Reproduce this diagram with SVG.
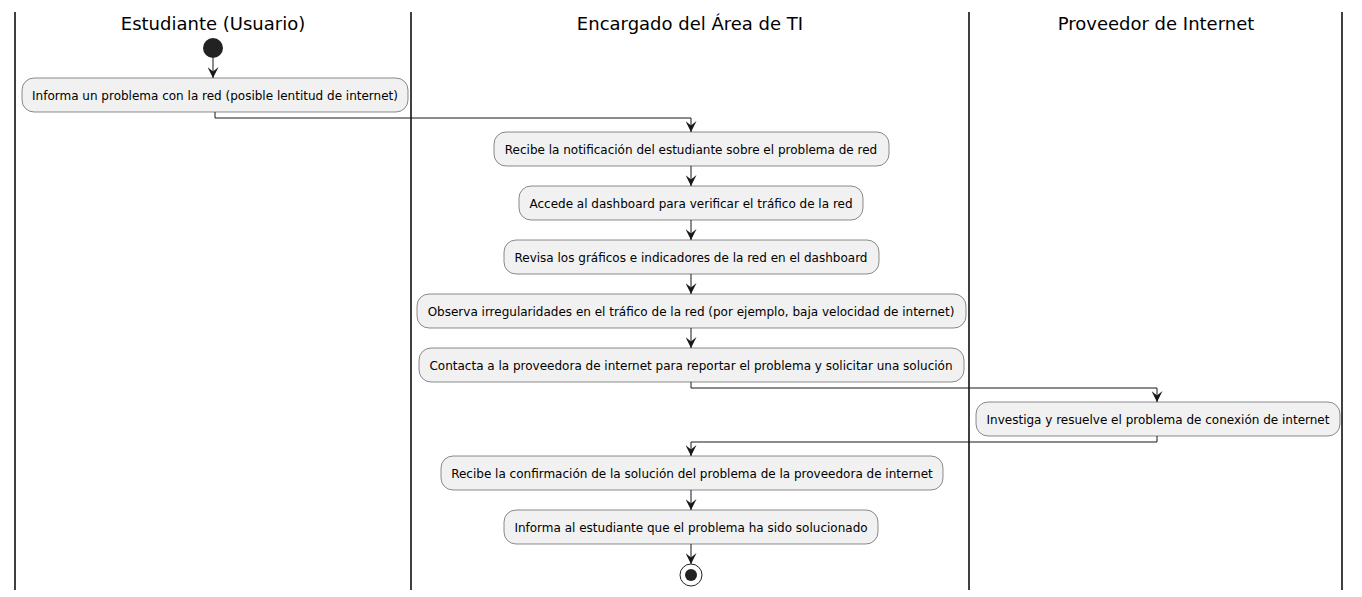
<svg xmlns="http://www.w3.org/2000/svg" width="1362" height="597" viewBox="0 0 1362 597">
<defs>
<style>
.lane{stroke:#000;stroke-width:1.5}
.title{font-family:"DejaVu Sans",sans-serif;font-size:18px;fill:#000;text-anchor:middle}
.box{fill:#F1F1F1;stroke:#181818;stroke-width:0.5}
.lbl{font-family:"DejaVu Sans",sans-serif;font-size:12px;fill:#000;text-anchor:middle}
.edge{fill:none;stroke:#181818;stroke-width:1}
</style>
<marker id="ah" viewBox="0 0 10 10" refX="10" refY="5" markerWidth="11" markerHeight="11" orient="auto" markerUnits="userSpaceOnUse">
<path d="M0,0 L10,5 L0,10 L4,5 Z" fill="#181818"/>
</marker>
</defs>
<rect width="1362" height="597" fill="#fff"/>
<g id="lanes">
<line class="lane" x1="15" y1="12" x2="15" y2="590"/>
<line class="lane" x1="411" y1="12" x2="411" y2="590"/>
<line class="lane" x1="969" y1="12" x2="969" y2="590"/>
<line class="lane" x1="1342" y1="12" x2="1342" y2="590"/>
<text class="title" x="213" y="30">Estudiante (Usuario)</text>
<text class="title" x="690" y="30">Encargado del Área de TI</text>
<text class="title" x="1156" y="30">Proveedor de Internet</text>
</g>
<g id="connectors">
<path class="edge" d="M213,58 V78" marker-end="url(#ah)"/>
<path class="edge" d="M215,112 V118 H691 V132" marker-end="url(#ah)"/>
<path class="edge" d="M691,166 V186" marker-end="url(#ah)"/>
<path class="edge" d="M691,220 V240" marker-end="url(#ah)"/>
<path class="edge" d="M691,274 V294" marker-end="url(#ah)"/>
<path class="edge" d="M691,328 V348" marker-end="url(#ah)"/>
<path class="edge" d="M691,382 V388 H1157 V402" marker-end="url(#ah)"/>
<path class="edge" d="M1157,436 V442 H691 V456" marker-end="url(#ah)"/>
<path class="edge" d="M691,490 V510" marker-end="url(#ah)"/>
<path class="edge" d="M691,544 V564" marker-end="url(#ah)"/>
</g>
<g id="start"><circle cx="213" cy="48" r="10" fill="#222"/></g>
<g id="n1"><rect class="box" x="22" y="78" width="386" height="34" rx="12"/><text class="lbl" x="215" y="100">Informa un problema con la red (posible lentitud de internet)</text></g>
<g id="n2"><rect class="box" x="494" y="132" width="395" height="34" rx="12"/><text class="lbl" x="691" y="154">Recibe la notificación del estudiante sobre el problema de red</text></g>
<g id="n3"><rect class="box" x="519" y="186" width="344" height="34" rx="12"/><text class="lbl" x="691" y="208">Accede al dashboard para verificar el tráfico de la red</text></g>
<g id="n4"><rect class="box" x="504" y="240" width="375" height="34" rx="12"/><text class="lbl" x="691" y="262">Revisa los gráficos e indicadores de la red en el dashboard</text></g>
<g id="n5"><rect class="box" x="417" y="294" width="549" height="34" rx="12"/><text class="lbl" x="691" y="316">Observa irregularidades en el tráfico de la red (por ejemplo, baja velocidad de internet)</text></g>
<g id="n6"><rect class="box" x="419" y="348" width="545" height="34" rx="12"/><text class="lbl" x="691" y="370">Contacta a la proveedora de internet para reportar el problema y solicitar una solución</text></g>
<g id="n7"><rect class="box" x="976" y="402" width="364" height="34" rx="12"/><text class="lbl" x="1158" y="424">Investiga y resuelve el problema de conexión de internet</text></g>
<g id="n8"><rect class="box" x="441" y="456" width="502" height="34" rx="12"/><text class="lbl" x="692" y="478">Recibe la confirmación de la solución del problema de la proveedora de internet</text></g>
<g id="n9"><rect class="box" x="504" y="510" width="374" height="34" rx="12"/><text class="lbl" x="691" y="532">Informa al estudiante que el problema ha sido solucionado</text></g>
<g id="end"><circle cx="691" cy="575" r="11" fill="none" stroke="#222" stroke-width="1"/><circle cx="691" cy="575" r="6" fill="#222"/></g>
</svg>
